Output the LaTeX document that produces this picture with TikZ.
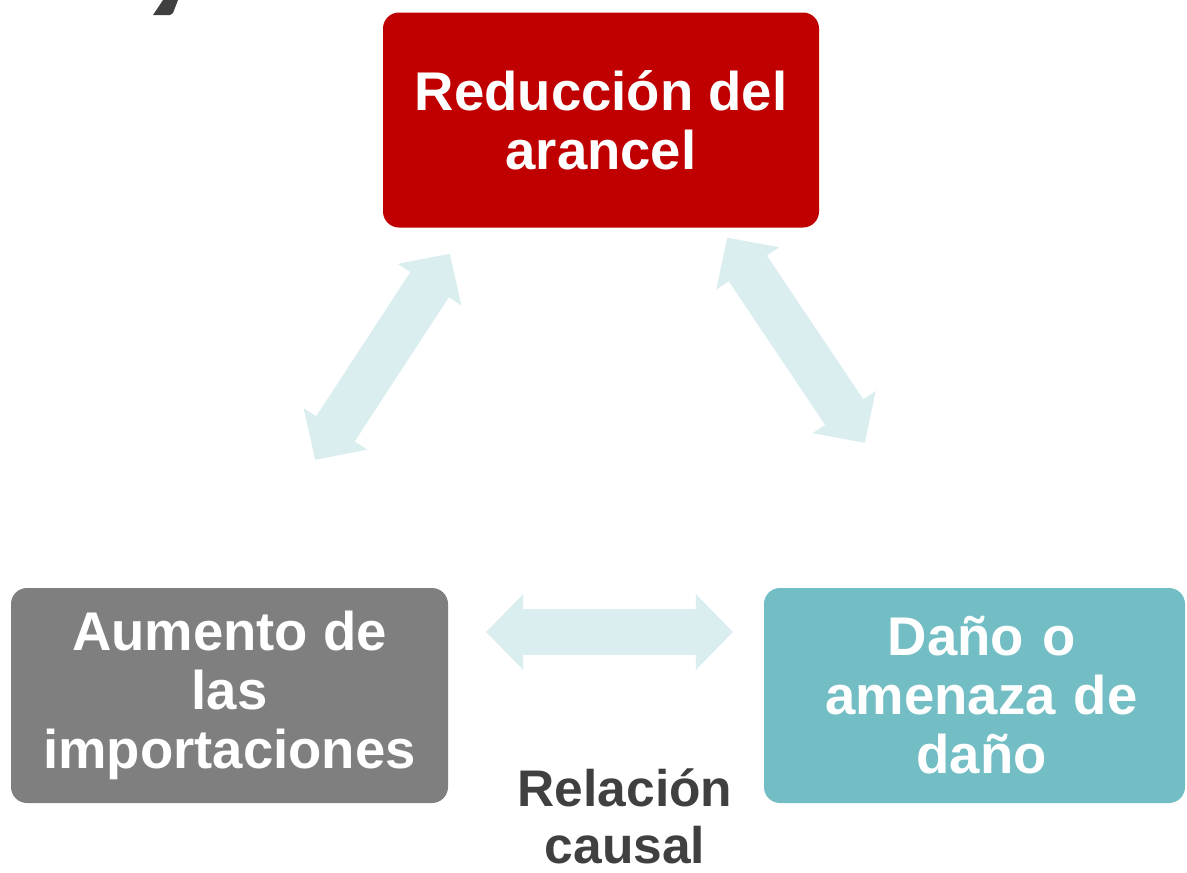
\documentclass[tikz,border=0pt]{standalone}
\usepackage{fontspec}
\setmainfont{Liberation Sans}
\usetikzlibrary{arrows.meta,calc}

\definecolor{arRed}{HTML}{C00000}
\definecolor{arGray}{HTML}{7F7F7F}
\definecolor{arTeal}{HTML}{72BEC4}
\definecolor{arPale}{HTML}{DAEDEF}
\definecolor{arText}{HTML}{404040}

\tikzset{
  box/.style={rectangle, rounded corners=16pt, minimum height=215pt, inner sep=0pt,
    align=center, text=white, font=\fontsize{54.5}{59}\selectfont\bfseries},
  link/.style={draw=arPale, line width=46pt,
    {Triangle[length=37pt,width=76pt,line width=0pt]}-{Triangle[length=37pt,width=76pt,line width=0pt]}}
}

\begin{document}
\begin{tikzpicture}[x=1pt,y=-1pt]
\useasboundingbox (0,0) rectangle (1187,873);

% Cut-off title glyph
\fill[arText] (163,0) -- (178,0) -- (173,13) -- (170,15) -- (153,15) -- cycle;

% Boxes
\node[box, fill=arRed, minimum width=436pt] (tarifa) at (601,120) {Reducción del\\arancel};
\node[box, fill=arGray, minimum width=437pt] (import) at (229.5,695.5) {Aumento de\\las\\importaciones};
\node[box, fill=arTeal, minimum width=421pt, text width=421pt] (dano) at (974.5,695.5) {\hspace*{14pt}Daño o\\\hspace*{14pt}amenaza de\\\hspace*{14pt}daño};

% Double arrows
\draw[link] ($(import.north east)+(-133,-128)$) -- ($(tarifa.south west)+(67,26)$);
\draw[link] ($(tarifa.south east)+(-92,10)$) -- ($(dano.north west)+(101,-145)$);
\draw[link] ($(import.east)+(38,-63.5)$) -- ($(dano.west)+(-31,-63.5)$);

% Caption
\node[text=arText, font=\fontsize{51.5}{57}\selectfont\bfseries, align=center] (rel) at (625,816) {Relación\\causal};
\end{tikzpicture}
\end{document}
